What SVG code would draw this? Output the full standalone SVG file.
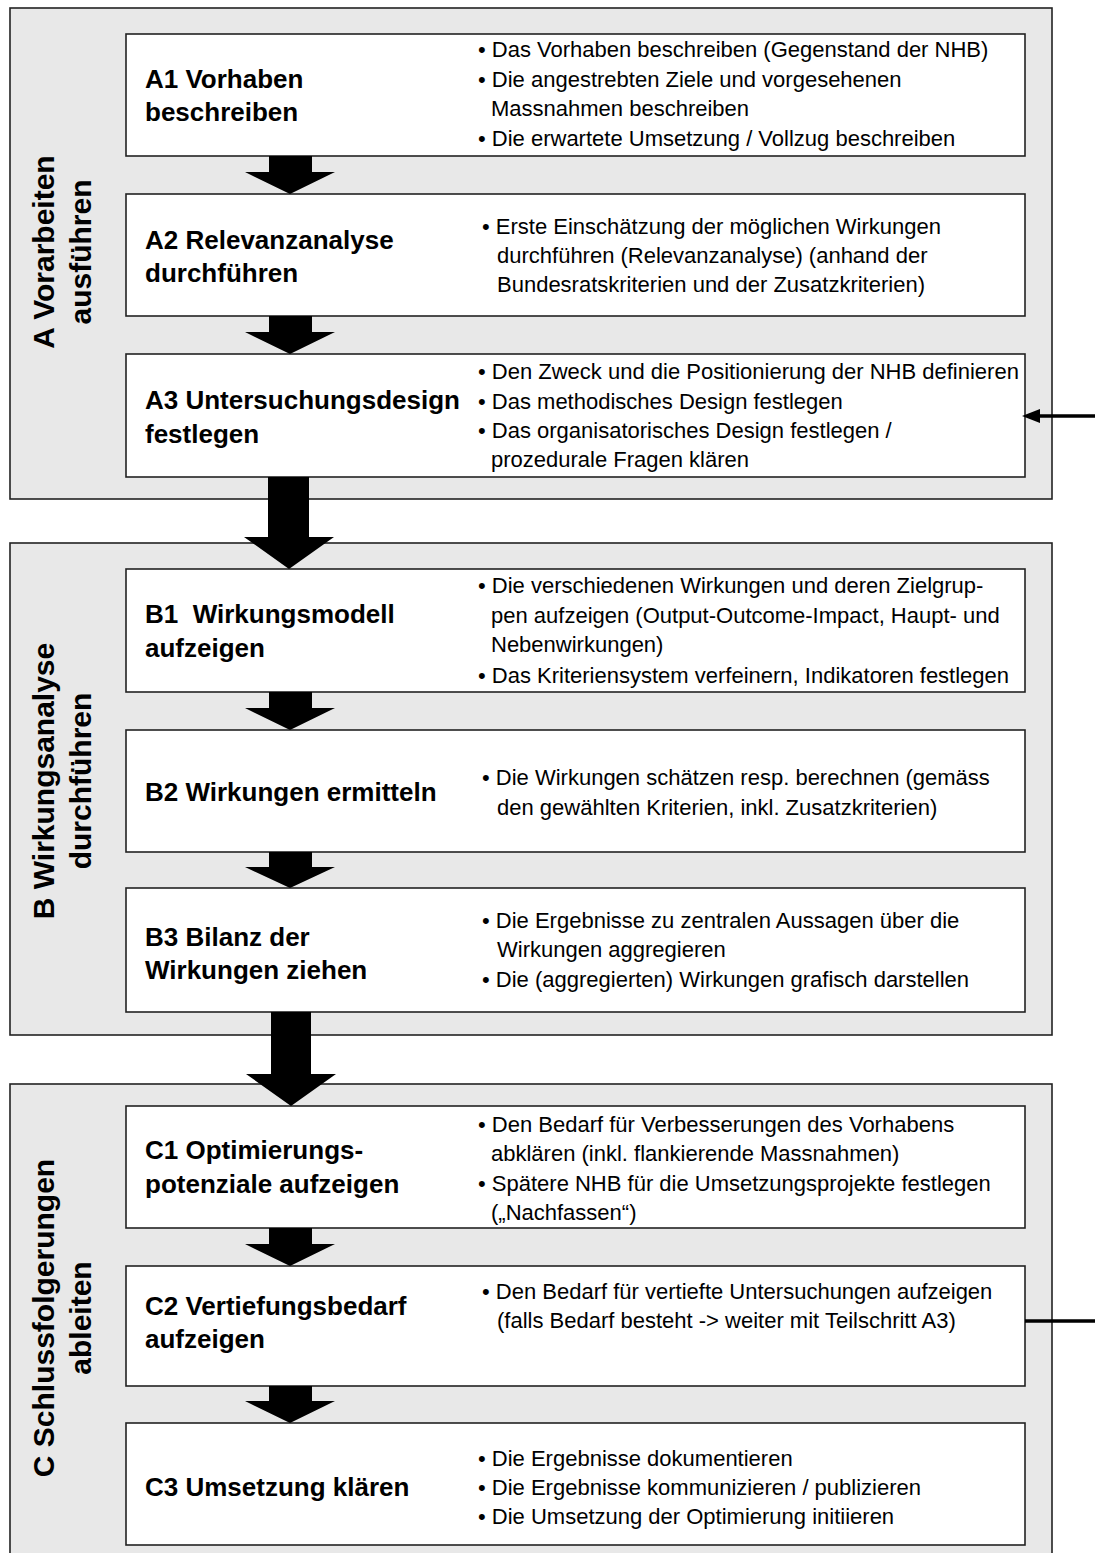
<svg xmlns="http://www.w3.org/2000/svg" width="1095" height="1553" viewBox="0 0 1095 1553">
<defs>
<style>
.panel{fill:#e8e8e8;stroke:#222;stroke-width:1.6}
.box{fill:#fff;stroke:#222;stroke-width:1.6}
.h{font-family:"Liberation Sans",Arial,sans-serif;font-weight:bold;font-size:26px;fill:#000}
.v{font-family:"Liberation Sans",Arial,sans-serif;font-weight:bold;font-size:30px;fill:#000;text-anchor:middle}
.t{font-family:"Liberation Sans",Arial,sans-serif;font-size:22px;fill:#000}
.arr{fill:#000}
.pre{white-space:pre}
</style>
</defs>

<g id="panelA">
<rect class="panel" x="10" y="8" width="1042" height="491"/>
<text class="v" transform="translate(54,252) rotate(-90)">A Vorarbeiten</text>
<text class="v" transform="translate(91,252) rotate(-90)">ausführen</text>
</g>
<g id="panelB">
<rect class="panel" x="10" y="543" width="1042" height="492"/>
<text class="v" transform="translate(54,781) rotate(-90)">B Wirkungsanalyse</text>
<text class="v" transform="translate(91,781) rotate(-90)">durchführen</text>
</g>
<g id="panelC">
<rect class="panel" x="10" y="1084" width="1042" height="475"/>
<text class="v" transform="translate(54,1318) rotate(-90)">C Schlussfolgerungen</text>
<text class="v" transform="translate(91,1318) rotate(-90)">ableiten</text>
</g>

<g id="A1">
<rect class="box" x="126" y="34" width="899" height="122"/>
<text class="h" x="145" y="88">A1 Vorhaben</text>
<text class="h" x="145" y="121">beschreiben</text>
<text class="t" x="478" y="57">• Das Vorhaben beschreiben (Gegenstand der NHB)</text>
<text class="t" x="478" y="87">• Die angestrebten Ziele und vorgesehenen</text>
<text class="t" x="491" y="116">Massnahmen beschreiben</text>
<text class="t" x="478" y="146">• Die erwartete Umsetzung / Vollzug beschreiben</text>
</g>
<g id="A2">
<rect class="box" x="126" y="194" width="899" height="122"/>
<text class="h" x="145" y="249">A2 Relevanzanalyse</text>
<text class="h" x="145" y="282">durchführen</text>
<text class="t" x="482" y="234">• Erste Einschätzung der möglichen Wirkungen</text>
<text class="t" x="497" y="263">durchführen (Relevanzanalyse) (anhand der</text>
<text class="t" x="497" y="292">Bundesratskriterien und der Zusatzkriterien)</text>
</g>
<g id="A3">
<rect class="box" x="126" y="354" width="899" height="123"/>
<text class="h" x="145" y="409">A3 Untersuchungsdesign</text>
<text class="h" x="145" y="443">festlegen</text>
<text class="t" x="478" y="379">• Den Zweck und die Positionierung der NHB definieren</text>
<text class="t" x="478" y="409">• Das methodisches Design festlegen</text>
<text class="t" x="478" y="438">• Das organisatorisches Design festlegen /</text>
<text class="t" x="491" y="467">prozedurale Fragen klären</text>
</g>

<g id="B1">
<rect class="box" x="126" y="569" width="899" height="123"/>
<text class="h pre" x="145" y="623" xml:space="preserve">B1  Wirkungsmodell</text>
<text class="h" x="145" y="657">aufzeigen</text>
<text class="t" x="478" y="593">• Die verschiedenen Wirkungen und deren Zielgrup-</text>
<text class="t" x="491" y="623">pen aufzeigen (Output-Outcome-Impact, Haupt- und</text>
<text class="t" x="491" y="652">Nebenwirkungen)</text>
<text class="t" x="478" y="683">• Das Kriteriensystem verfeinern, Indikatoren festlegen</text>
</g>
<g id="B2">
<rect class="box" x="126" y="730" width="899" height="122"/>
<text class="h" x="145" y="801">B2 Wirkungen ermitteln</text>
<text class="t" x="482" y="785">• Die Wirkungen schätzen resp. berechnen (gemäss</text>
<text class="t" x="497" y="815">den gewählten Kriterien, inkl. Zusatzkriterien)</text>
</g>
<g id="B3">
<rect class="box" x="126" y="888" width="899" height="124"/>
<text class="h" x="145" y="946">B3 Bilanz der</text>
<text class="h" x="145" y="979">Wirkungen ziehen</text>
<text class="t" x="482" y="928">• Die Ergebnisse zu zentralen Aussagen über die</text>
<text class="t" x="497" y="957">Wirkungen aggregieren</text>
<text class="t" x="482" y="987">• Die (aggregierten) Wirkungen grafisch darstellen</text>
</g>

<g id="C1">
<rect class="box" x="126" y="1106" width="899" height="122"/>
<text class="h" x="145" y="1159">C1 Optimierungs-</text>
<text class="h" x="145" y="1193">potenziale aufzeigen</text>
<text class="t" x="478" y="1132">• Den Bedarf für Verbesserungen des Vorhabens</text>
<text class="t" x="491" y="1161">abklären (inkl. flankierende Massnahmen)</text>
<text class="t" x="478" y="1191">• Spätere NHB für die Umsetzungsprojekte festlegen</text>
<text class="t" x="491" y="1220">(„Nachfassen“)</text>
</g>
<g id="C2">
<rect class="box" x="126" y="1266" width="899" height="120"/>
<text class="h" x="145" y="1315">C2 Vertiefungsbedarf</text>
<text class="h" x="145" y="1348">aufzeigen</text>
<text class="t" x="482" y="1299">• Den Bedarf für vertiefte Untersuchungen aufzeigen</text>
<text class="t" x="497" y="1328">(falls Bedarf besteht -&gt; weiter mit Teilschritt A3)</text>
</g>
<g id="C3">
<rect class="box" x="126" y="1423" width="899" height="122"/>
<text class="h" x="145" y="1496">C3 Umsetzung klären</text>
<text class="t" x="478" y="1466">• Die Ergebnisse dokumentieren</text>
<text class="t" x="478" y="1495">• Die Ergebnisse kommunizieren / publizieren</text>
<text class="t" x="478" y="1524">• Die Umsetzung der Optimierung initiieren</text>
</g>

<g id="connectors">
<path class="arr" d="M269,156 H312 V172 H335 L290,194 L245,172 H269 Z"/>
<path class="arr" d="M269,316 H312 V332 H335 L290,354 L245,332 H269 Z"/>
<path class="arr" d="M268,477 H309 V537 H334 L289,569 L244,537 H268 Z"/>
<path class="arr" d="M269,692 H312 V708 H335 L290,730 L245,708 H269 Z"/>
<path class="arr" d="M269,852 H312 V867 H335 L290,888 L245,867 H269 Z"/>
<path class="arr" d="M271,1012 H311 V1074 H336 L291,1106 L246,1074 H271 Z"/>
<path class="arr" d="M269,1228 H312 V1244 H335 L290,1266 L245,1244 H269 Z"/>
<path class="arr" d="M269,1386 H312 V1401 H335 L290,1423 L245,1401 H269 Z"/>
<path d="M1025,1321 H1100 V416 H1038" fill="none" stroke="#000" stroke-width="3.5"/>
<path d="M1022,416 L1040,409 L1040,423 Z" fill="#000"/>
</g>
</svg>
